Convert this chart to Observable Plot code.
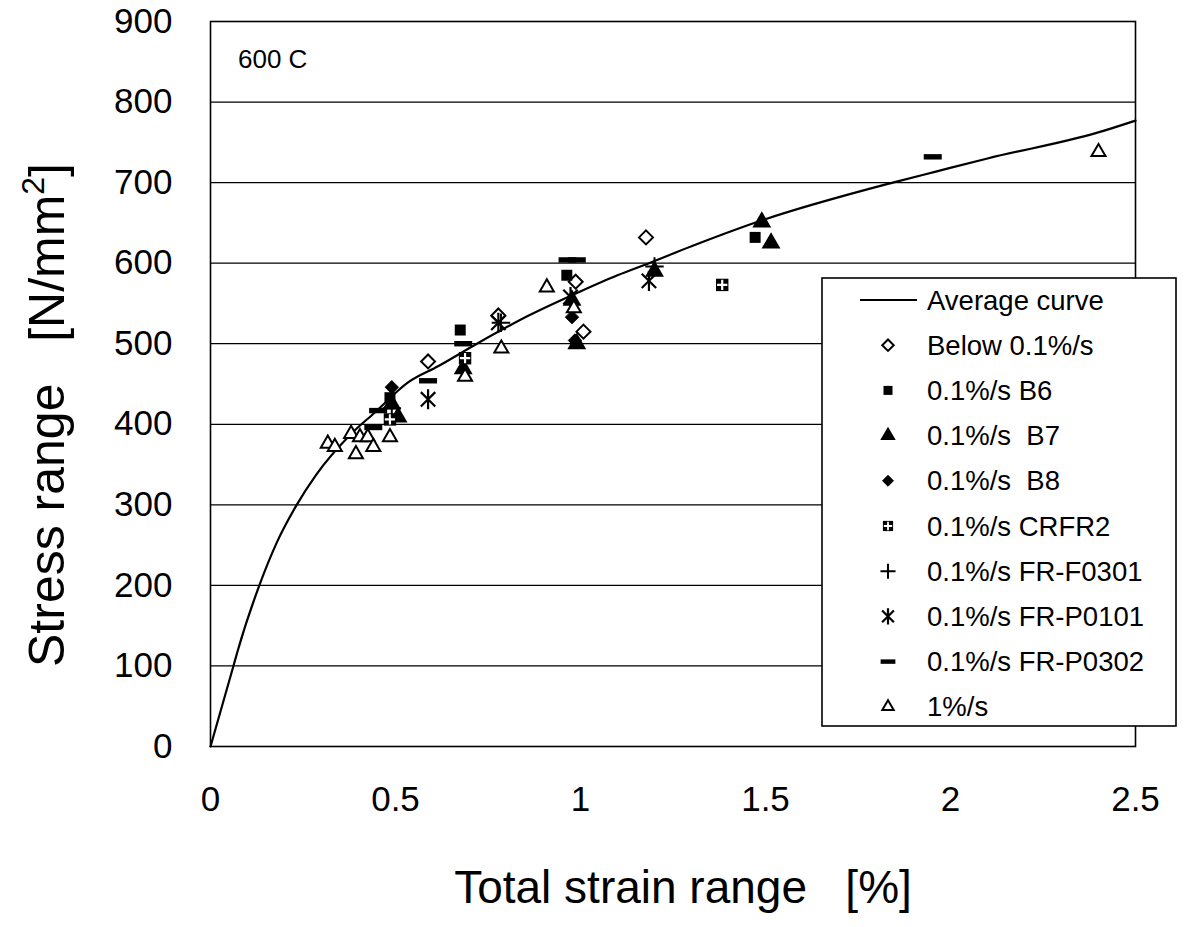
<!DOCTYPE html>
<html><head><meta charset="utf-8">
<script src="https://cdn.jsdelivr.net/npm/d3@7"></script>
<script src="https://cdn.jsdelivr.net/npm/@observablehq/plot@0.6"></script>
<style>
body{margin:0;background:#fff;}
svg{font-family:"Liberation Sans",Arial,sans-serif;}
</style>
</head><body><div id="chart"></div>
<script>
// ---- data ----
const xTicks = [0, 0.5, 1, 1.5, 2, 2.5];
const yTicks = [0, 100, 200, 300, 400, 500, 600, 700, 800, 900];
const curveX = [0, 0.062, 0.073, 0.132, 0.18, 0.233, 0.285, 0.38, 0.445, 0.534, 0.615, 0.72, 0.86, 0.995, 1.1, 1.185, 1.3, 1.483, 1.844, 1.963, 2.1, 2.397, 2.5];
const curveY = [0, 100, 118, 200, 254, 300, 337, 388, 415, 452, 472, 500, 535, 564, 585, 600, 621, 652, 700, 714, 730, 762, 777];
const below01 = [[0.588,478],[0.778,535],[0.987,577],[1.008,515],[1.177,632]];
const b6 = [[0.485,433],[0.675,517],[0.963,585],[1.472,632]];
const b7 = [[0.49,425],[0.507,409],[0.683,469],[0.977,554],[0.99,500],[1.2,590],[1.49,651],[1.515,625]];
const b8 = [[0.49,446],[0.977,533],[0.985,504]];
const crfr2 = [[0.485,406],[0.688,482],[1.383,573]];
const frF0301 = [[0.49,420],[0.785,526],[1.2,596]];
const frP0101 = [[0.588,431],[0.778,526],[0.973,558],[1.185,578]];
const frP0302 = [[0.44,396],[0.453,417],[0.588,454],[0.683,500],[0.965,604],[0.99,604],[1.952,732]];
const rate1 = [[0.317,376],[0.336,372],[0.38,388],[0.393,363],[0.404,384],[0.425,384],[0.44,372],[0.485,384],[0.688,459],[0.786,494],[0.909,570],[0.982,544],[2.4,738]];
const legendLabels = ["Average curve","Below 0.1%/s","0.1%/s B6","0.1%/s  B7","0.1%/s  B8","0.1%/s CRFR2","0.1%/s FR-F0301","0.1%/s FR-P0101","0.1%/s FR-P0302","1%/s"];

// ---- symbols ----
const dashSym = {draw(ctx, size){const r=Math.sqrt(size/Math.PI); const h=r*0.3; ctx.moveTo(-r,-h); ctx.lineTo(r,-h); ctx.lineTo(r,h); ctx.lineTo(-r,h); ctx.closePath();}};
const starSym = {draw(ctx, size){const r=Math.sqrt(size/Math.PI); const a=r*0.72, b=r*0.72;
  ctx.moveTo(0,-r); ctx.lineTo(0,r); ctx.moveTo(-a,-b); ctx.lineTo(a,b); ctx.moveTo(-a,b); ctx.lineTo(a,-b);}};
const curvePts = curveX.map((x,i)=>({x, y: curveY[i]}));
const pts = a => a.map(([x,y])=>({x,y}));

const styles = [
  {data: below01, symbol: d3.symbolDiamond2, r: 6.3, fill: "white", stroke: "black", sw: 2},
  {data: b6, symbol: d3.symbolSquare, r: 6.2, fill: "black", stroke: "none", sw: 0},
  {data: b7, symbol: d3.symbolTriangle, r: 7, fill: "black", stroke: "none", sw: 0},
  {data: b8, symbol: d3.symbolDiamond2, r: 6, fill: "black", stroke: "black", sw: 1},
  {data: crfr2, symbol: d3.symbolSquare, r: 7, fill: "black", stroke: "none", sw: 0, inner: true},
  {data: frF0301, symbol: d3.symbolPlus, r: 6, fill: "none", stroke: "black", sw: 2},
  {data: frP0101, symbol: starSym, r: 10, fill: "none", stroke: "black", sw: 2.2},
  {data: frP0302, symbol: dashSym, r: 9, fill: "black", stroke: "none", sw: 0},
  {data: rate1, symbol: d3.symbolTriangle2, r: 6.7, fill: "white", stroke: "black", sw: 2}
];

const marks = [
  Plot.gridY(yTicks, {stroke: "black", strokeOpacity: 1, strokeWidth: 1.2}),
  Plot.line(curvePts, {x: "x", y: "y", curve: "monotone-x", stroke: "black", strokeWidth: 2.2}),
];
for (const s of styles) {
  marks.push(Plot.dot(pts(s.data), {x: "x", y: "y", symbol: s.symbol, r: s.r, fill: s.fill, stroke: s.stroke, strokeWidth: s.sw}));
  if (s.inner) marks.push(Plot.dot(pts(s.data), {x: "x", y: "y", symbol: d3.symbolPlus, r: 3.4, fill: "none", stroke: "white", strokeWidth: 2.2}));
}
marks.push(Plot.frame({stroke: "black", strokeWidth: 1.6}));
marks.push(Plot.axisX({ticks: xTicks, tickSize: 0, tickPadding: 40, fontSize: 35, label: null, tickFormat: d => String(d)}));
marks.push(Plot.axisY({ticks: yTicks, tickSize: 0, tickPadding: 38, fontSize: 35, label: null}));

const chart = Plot.plot({
  width: 1200, height: 927,
  marginLeft: 210, marginRight: 65, marginTop: 21, marginBottom: 181,
  x: {domain: [0, 2.5]},
  y: {domain: [0, 900]},
  style: {fontFamily: '"Liberation Sans", Arial, sans-serif', color: "black", background: "white"},
  marks
});
document.getElementById("chart").appendChild(chart);

// ---- annotations ----
const svg = d3.select(chart);
svg.append("text").attr("x", 238).attr("y", 68).attr("text-anchor", "start").attr("font-size", 26).attr("fill", "black").text("600 C");
const yt = svg.append("text").attr("transform", "translate(64,415) rotate(-90)").attr("text-anchor", "middle").attr("font-size", 50).attr("fill", "black");
yt.append("tspan").text("Stress range\u00a0\u00a0\u00a0[N/mm");
yt.append("tspan").attr("font-size", 32).attr("dy", -20).text("2");
yt.append("tspan").attr("dy", 20).text("]");
svg.append("text").attr("x", 683).attr("y", 903).attr("text-anchor", "middle").attr("font-size", 46).attr("fill", "black").text("Total strain range\u00a0\u00a0\u00a0[%]");

// ---- legend ----
const lg = svg.append("g");
lg.append("rect").attr("x", 822).attr("y", 278).attr("width", 354).attr("height", 448).attr("fill", "white").attr("stroke", "black").attr("stroke-width", 1.6);
const rowY = i => 300 + i * 45.2;
lg.append("line").attr("x1", 860).attr("x2", 917).attr("y1", rowY(0)).attr("y2", rowY(0)).attr("stroke", "black").attr("stroke-width", 2);
styles.forEach((s, i) => {
  const k = 0.82;
  const size = Math.PI * (s.r * k) ** 2;
  lg.append("path").attr("transform", `translate(888,${rowY(i + 1)})`).attr("d", d3.symbol(s.symbol, size)())
    .attr("fill", s.fill).attr("stroke", s.stroke).attr("stroke-width", s.sw);
  if (s.inner) lg.append("path").attr("transform", `translate(888,${rowY(i + 1)})`).attr("d", d3.symbol(d3.symbolPlus, Math.PI * (3.4 * k) ** 2)())
    .attr("fill", "none").attr("stroke", "white").attr("stroke-width", 1.8);
});
legendLabels.forEach((t, i) => {
  lg.append("text").attr("x", 927).attr("y", rowY(i)).attr("dy", "0.35em").attr("text-anchor", "start").attr("font-size", 27.5).attr("fill", "black").style("white-space", "pre").text(t);
});
</script>
</body></html>
